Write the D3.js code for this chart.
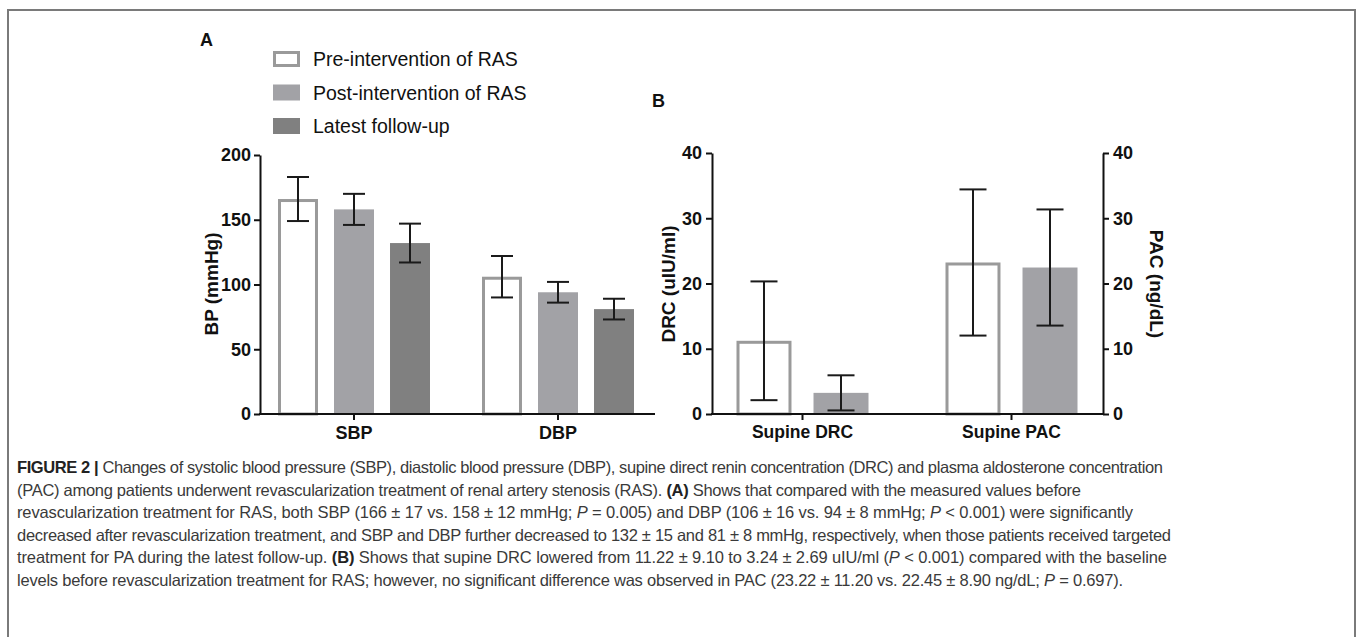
<!DOCTYPE html>
<html>
<head>
<meta charset="utf-8">
<script src="https://cdn.jsdelivr.net/npm/d3@7/dist/d3.min.js"></script>
<style>
  html, body { margin: 0; padding: 0; background: #fff; }
  svg { display: block; }
  .chart text { font-family: "Liberation Sans", Arial, sans-serif; fill: #111; }
  .caption text { font-family: "Liberation Sans Narrow", "Liberation Sans", Arial, sans-serif; fill: #3a3a3a; }
</style>
</head>
<body>
<svg id="fig" width="1357" height="637"></svg>
<script>
// Panel A: blood pressure
const groupsA = ["SBP", "DBP"];
const seriesA = ["Pre-intervention of RAS", "Post-intervention of RAS", "Latest follow-up"];
const meanA = [[166, 106], [158, 94], [132, 81]];
const sdA = [[17, 16], [12, 8], [15, 8]];
const ticksA = [0, 50, 100, 150, 200];

// Panel B: DRC / PAC
const groupsB = ["Supine DRC", "Supine PAC"];
const meanB = [[11.22, 23.22], [3.24, 22.45]];
const sdB = [[9.10, 11.20], [2.69, 8.90]];
const ticksB = [0, 10, 20, 30, 40];

const fills = ["#ffffff", "#a2a2a6", "#808080"];
const outline = "#9a9a9a";

const svg = d3.select("#fig");

// outer frame
svg.append("path")
  .attr("d", "M8,640V10H1355V640")
  .attr("fill", "none")
  .attr("stroke", "#7a7a7a")
  .attr("stroke-width", 2);

const chart = svg.append("g").attr("class", "chart");

function styleAxis(g) {
  g.selectAll("path, line").attr("stroke", "#111").attr("stroke-width", 2);
  g.selectAll("text").attr("font-weight", "bold").attr("font-size", 18).attr("fill", "#111");
}

function drawBars(g, groups, means, sds, x, inner, y, capW) {
  means.forEach((row, s) => {
    row.forEach((v, i) => {
      const cx = x(groups[i]) + x.bandwidth() / 2 + inner(s);
      const w = inner.bandwidth();
      if (s === 0) {
        g.append("rect")
          .attr("x", cx + 1.5).attr("y", y(v) + 1.5)
          .attr("width", w - 3).attr("height", y(0) - y(v) - 1.5)
          .attr("fill", "#fff").attr("stroke", outline).attr("stroke-width", 3);
      } else {
        g.append("rect")
          .attr("x", cx).attr("y", y(v))
          .attr("width", w).attr("height", y(0) - y(v))
          .attr("fill", fills[s]);
      }
      const mx = cx + w / 2;
      const lo = y(v - sds[s][i]), hi = y(v + sds[s][i]);
      const eb = g.append("g").attr("stroke", "#1a1a1a").attr("stroke-width", 2);
      eb.append("line").attr("x1", mx).attr("x2", mx).attr("y1", lo).attr("y2", hi);
      eb.append("line").attr("x1", mx - capW / 2).attr("x2", mx + capW / 2).attr("y1", lo).attr("y2", lo);
      eb.append("line").attr("x1", mx - capW / 2).attr("x2", mx + capW / 2).attr("y1", hi).attr("y2", hi);
    });
  });
}

// ---------- Panel A ----------
const yA = d3.scaleLinear().domain([0, 200]).range([414, 155]);
const xA = d3.scaleBand().domain(groupsA).range([252, 660]);
const innerA = d3.scaleBand().domain(d3.range(seriesA.length)).range([-76, 76]).paddingInner(0.286);
const gA = chart.append("g");

drawBars(gA, groupsA, meanA, sdA, xA, innerA, yA, 22);

gA.append("g").attr("transform", "translate(260,0)")
  .call(d3.axisLeft(yA).tickValues(ticksA).tickSize(6).tickSizeOuter(0).tickPadding(3))
  .call(styleAxis);
gA.append("line").attr("x1", 259).attr("x2", 655).attr("y1", 414).attr("y2", 414)
  .attr("stroke", "#111").attr("stroke-width", 2);
gA.append("g").attr("transform", "translate(0,414)")
  .call(d3.axisBottom(xA).tickSize(6).tickSizeOuter(0).tickPadding(6))
  .call(g => g.select(".domain").remove())
  .call(styleAxis);

gA.append("text").attr("transform", "translate(218,284) rotate(-90)")
  .attr("text-anchor", "middle").attr("font-weight", "bold").attr("font-size", 19)
  .text("BP (mmHg)");
gA.append("text").attr("x", 200).attr("y", 46).attr("font-weight", "bold").attr("font-size", 18).text("A");

// legend
const leg = gA.append("g");
seriesA.forEach((name, s) => {
  const cy = 59 + s * 33.5;
  if (s === 0) {
    leg.append("rect").attr("x", 274.5).attr("y", cy - 6.5).attr("width", 24).attr("height", 13)
      .attr("fill", "#fff").attr("stroke", outline).attr("stroke-width", 3);
  } else {
    leg.append("rect").attr("x", 273).attr("y", cy - 8).attr("width", 27).attr("height", 16).attr("fill", fills[s]);
  }
  leg.append("text").attr("x", 313).attr("y", cy + 7).attr("font-size", 19.5).attr("fill", "#222").text(name);
});

// ---------- Panel B ----------
const yB = d3.scaleLinear().domain([0, 40]).range([414, 153]);
const xB = d3.scaleBand().domain(groupsB).range([698, 1116]);
const innerB = d3.scaleBand().domain(d3.range(meanB.length)).range([-66, 66]).paddingInner(0.286);
const gB = chart.append("g");

drawBars(gB, groupsB, meanB, sdB, xB, innerB, yB, 27);

gB.append("g").attr("transform", "translate(712,0)")
  .call(d3.axisLeft(yB).tickValues(ticksB).tickSize(6).tickSizeOuter(0).tickPadding(4))
  .call(styleAxis);
gB.append("g").attr("transform", "translate(1103,0)")
  .call(d3.axisRight(yB).tickValues(ticksB).tickSize(6).tickSizeOuter(0).tickPadding(4))
  .call(styleAxis);
gB.append("line").attr("x1", 711).attr("x2", 1104).attr("y1", 414).attr("y2", 414)
  .attr("stroke", "#111").attr("stroke-width", 2);
gB.append("g").attr("transform", "translate(0,414)")
  .call(d3.axisBottom(xB).tickSize(6).tickSizeOuter(0).tickPadding(6))
  .call(g => g.select(".domain").remove())
  .call(styleAxis)
  .call(g => g.selectAll("text").attr("font-size", 17.5));

gB.append("text").attr("transform", "translate(675,284) rotate(-90)")
  .attr("text-anchor", "middle").attr("font-weight", "bold").attr("font-size", 19)
  .text("DRC (uIU/ml)");
gB.append("text").attr("transform", "translate(1150,284) rotate(90)")
  .attr("text-anchor", "middle").attr("font-weight", "bold").attr("font-size", 19)
  .text("PAC (ng/dL)");
gB.append("text").attr("x", 652).attr("y", 107).attr("font-weight", "bold").attr("font-size", 18).text("B");

// ---------- Caption ----------
const captionLines = [
  [["FIGURE 2 |", "b"], [" Changes of systolic blood pressure (SBP), diastolic blood pressure (DBP), supine direct renin concentration (DRC) and plasma aldosterone concentration"]],
  [["(PAC) among patients underwent revascularization treatment of renal artery stenosis (RAS). "], ["(A)", "b"], [" Shows that compared with the measured values before"]],
  [["revascularization treatment for RAS, both SBP (166 ± 17 vs. 158 ± 12 mmHg; "], ["P", "i"], [" = 0.005) and DBP (106 ± 16 vs. 94 ± 8 mmHg; "], ["P", "i"], [" < 0.001) were significantly"]],
  [["decreased after revascularization treatment, and SBP and DBP further decreased to 132 ± 15 and 81 ± 8 mmHg, respectively, when those patients received targeted"]],
  [["treatment for PA during the latest follow-up. "], ["(B)", "b"], [" Shows that supine DRC lowered from 11.22 ± 9.10 to 3.24 ± 2.69 uIU/ml ("], ["P", "i"], [" < 0.001) compared with the baseline"]],
  [["levels before revascularization treatment for RAS; however, no significant difference was observed in PAC (23.22 ± 11.20 vs. 22.45 ± 8.90 ng/dL; "], ["P", "i"], [" = 0.697)."]]
];
const lineEnds = [1163, 1081, 1133, 1171, 1167, 1123];

const cap = svg.append("g").attr("class", "caption");
captionLines.forEach((segs, k) => {
  const t = cap.append("text")
    .attr("x", 17).attr("y", 473 + k * 22.6)
    .attr("font-size", 16.5)
    .attr("xml:space", "preserve");
  segs.forEach(([s, st]) => {
    const sp = t.append("tspan").text(s);
    if (st === "b") sp.attr("font-weight", "bold").style("fill", "#222");
    if (st === "i") sp.attr("font-style", "italic");
  });
  t.attr("textLength", lineEnds[k] - 17).attr("lengthAdjust", "spacing");
});
</script>
</body>
</html>
